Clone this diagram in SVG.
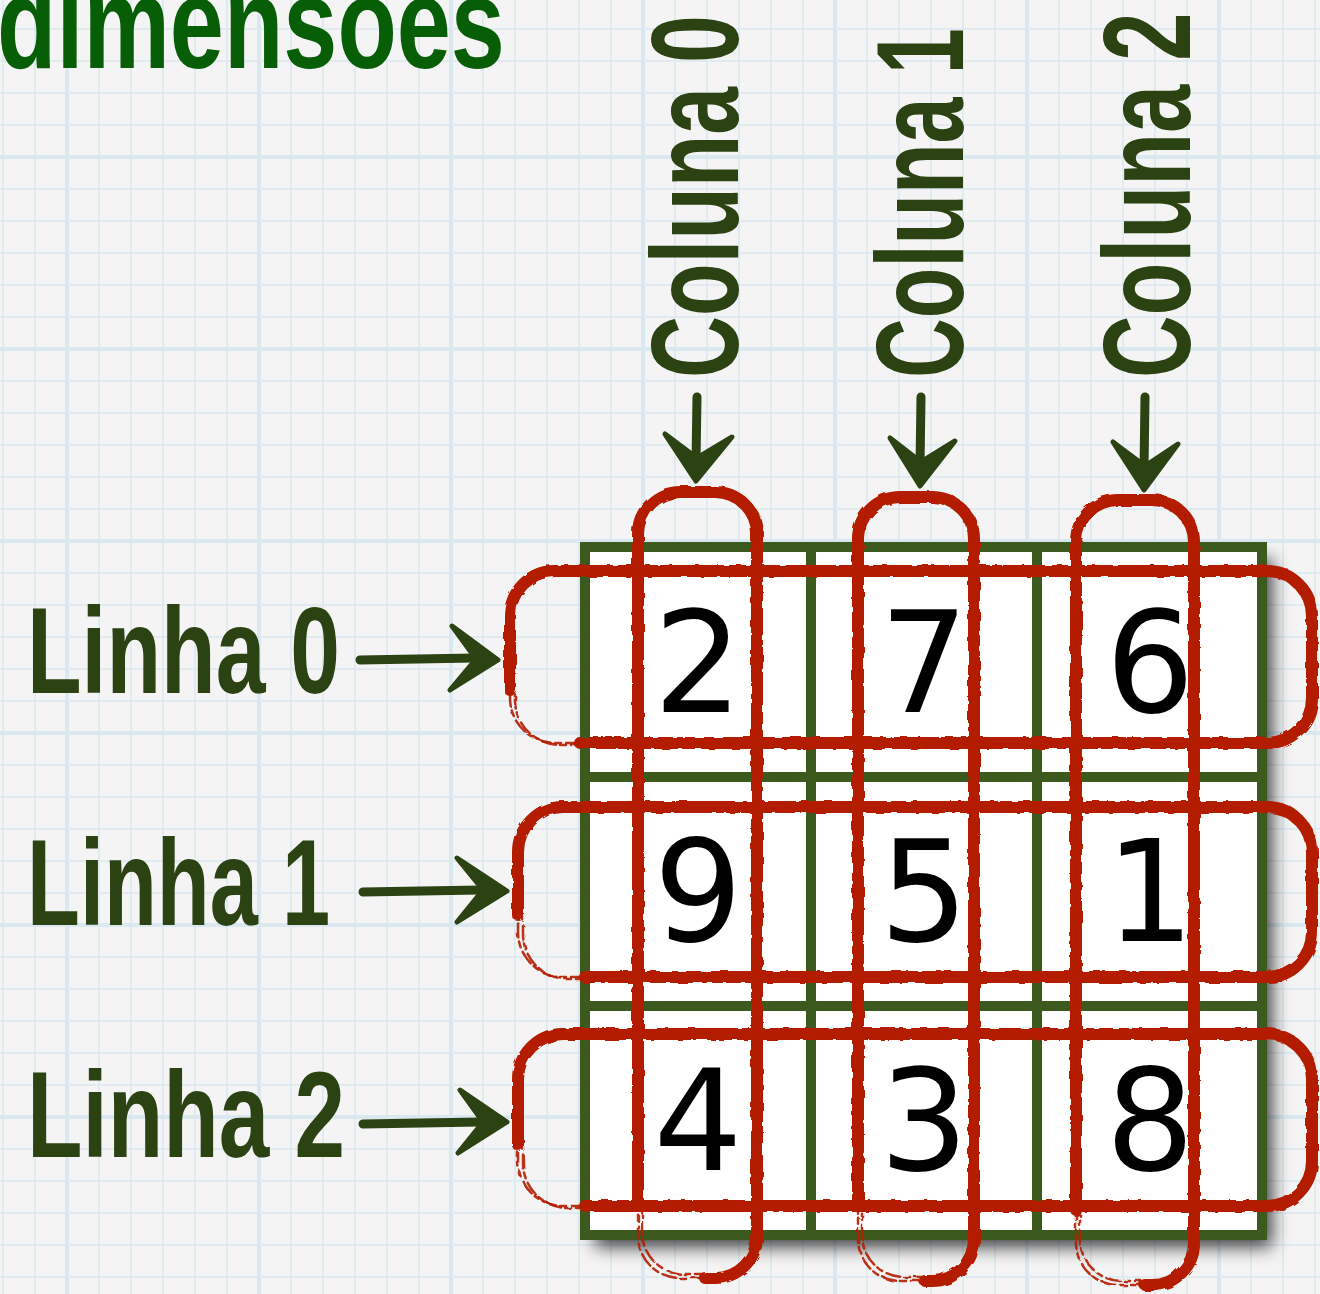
<svg xmlns="http://www.w3.org/2000/svg" xmlns:xlink="http://www.w3.org/1999/xlink" width="1320" height="1294" viewBox="0 0 1320 1294">
<style>
.lbl{font-family:"Liberation Sans","DejaVu Sans",sans-serif;font-weight:700;fill:#2b4212;}
.num{font-family:"DejaVu Sans","Liberation Sans",sans-serif;font-size:140px;fill:#000;text-anchor:middle;}
.cell{fill:#fff;stroke:#3c5a1d;stroke-width:10;}
.thick{fill:none;stroke:#b41c00;stroke-width:12;stroke-linecap:round;stroke-linejoin:round;}
.thin{fill:none;stroke:#b41c00;stroke-width:3;stroke-linecap:round;opacity:0.85;}
.faint{fill:none;stroke:#b41c00;stroke-width:2.5;stroke-dasharray:14 5 6 4;stroke-linecap:round;opacity:0.9;}
.shaft{fill:none;stroke:#2b4212;stroke-width:9;stroke-linecap:round;}
.head{fill:#2b4212;stroke:#2b4212;stroke-width:5;stroke-linejoin:round;}
</style>
<defs>
<pattern id="paper" x="147" y="45" width="192" height="192" patternUnits="userSpaceOnUse">
<rect width="192" height="192" fill="#f4f4f4"/>
<g stroke="#dfebf0" stroke-width="2">
<path d="M16 0V192M48 0V192M80 0V192M144 0V192M176 0V192M0 16H192M0 48H192M0 80H192M0 144H192M0 176H192"/>
</g>
<path d="M112 0V192M0 112H192" stroke="#dae8f0" stroke-width="4"/>
</pattern>
<filter id="shadow" x="-10%" y="-10%" width="130%" height="130%">
<feDropShadow dx="10" dy="12" stdDeviation="9" flood-color="#000" flood-opacity="0.75"/>
</filter>
<filter id="rough" x="-5%" y="-5%" width="110%" height="110%">
<feTurbulence type="fractalNoise" baseFrequency="0.09" numOctaves="2" seed="4"/>
<feDisplacementMap in="SourceGraphic" scale="4"/>
</filter>
<path id="c0" d="M638,1200 V534 A42,42 0 0 1 680,492 H715 A42,42 0 0 1 757,534 V1236 A42,42 0 0 1 715,1278 H705"/>
<path id="c0f" d="M705,1278 H680 A42,42 0 0 1 638,1236 V1200"/>
<path id="c1" d="M858,1205 V539 A42,42 0 0 1 900,497 H932 A42,42 0 0 1 974,539 V1239 A42,42 0 0 1 932,1281 H925"/>
<path id="c1f" d="M925,1281 H900 A42,42 0 0 1 858,1239 V1205"/>
<path id="c2" d="M1076,1210 V542 A42,42 0 0 1 1118,500 H1152 A42,42 0 0 1 1194,542 V1243 A42,42 0 0 1 1152,1285 H1145"/>
<path id="c2f" d="M1145,1285 H1118 A42,42 0 0 1 1076,1243 V1210"/>
<path id="r0" d="M510,690 V616 A45,45 0 0 1 555,571 H1267 A45,45 0 0 1 1312,616 V698 A45,45 0 0 1 1267,743 H580"/>
<path id="r0f" d="M580,743 H555 A45,45 0 0 1 510,698 V690"/>
<path id="r1" d="M518,915 V852 A45,45 0 0 1 563,807 H1267 A45,45 0 0 1 1312,852 V932 A45,45 0 0 1 1267,977 H585"/>
<path id="r1f" d="M585,977 H563 A45,45 0 0 1 518,932 V915"/>
<path id="r2" d="M518,1145 V1079 A45,45 0 0 1 563,1034 H1267 A45,45 0 0 1 1312,1079 V1161 A45,45 0 0 1 1267,1206 H585"/>
<path id="r2f" d="M585,1206 H563 A45,45 0 0 1 518,1161 V1145"/>
</defs>

<rect id="background" width="1320" height="1294" fill="url(#paper)"/>

<g id="title">
<text class="lbl" transform="translate(-3,68) scale(0.748,1)" font-size="130" style="fill:#075e07">dimensoes</text>
</g>

<g id="matrix">
<rect x="585" y="547" width="677" height="688" fill="#fff" filter="url(#shadow)"/>
<g id="cell-0-0"><rect class="cell" x="585" y="547" width="226" height="230"/><text class="num" x="698" y="712">2</text></g>
<g id="cell-0-1"><rect class="cell" x="811" y="547" width="226" height="230"/><text class="num" x="924" y="712">7</text></g>
<g id="cell-0-2"><rect class="cell" x="1037" y="547" width="225" height="230"/><text class="num" x="1150" y="712">6</text></g>
<g id="cell-1-0"><rect class="cell" x="585" y="777" width="226" height="229"/><text class="num" x="698" y="941">9</text></g>
<g id="cell-1-1"><rect class="cell" x="811" y="777" width="226" height="229"/><text class="num" x="924" y="941">5</text></g>
<g id="cell-1-2"><rect class="cell" x="1037" y="777" width="225" height="229"/><text class="num" x="1150" y="941">1</text></g>
<g id="cell-2-0"><rect class="cell" x="585" y="1006" width="226" height="229"/><text class="num" x="698" y="1170">4</text></g>
<g id="cell-2-1"><rect class="cell" x="811" y="1006" width="226" height="229"/><text class="num" x="924" y="1170">3</text></g>
<g id="cell-2-2"><rect class="cell" x="1037" y="1006" width="225" height="229"/><text class="num" x="1150" y="1170">8</text></g>
</g>

<g id="highlights" filter="url(#rough)">
<g id="loop-row-0"><use href="#r0" class="thick"/><use href="#r0" class="thin" transform="translate(2,4)"/><use href="#r0" class="thin" transform="translate(-2,-4)"/><use href="#r0f" class="faint"/><use href="#r0f" class="faint" transform="translate(5,2)"/></g>
<g id="loop-row-1"><use href="#r1" class="thick"/><use href="#r1" class="thin" transform="translate(2,4)"/><use href="#r1" class="thin" transform="translate(-2,-4)"/><use href="#r1f" class="faint"/><use href="#r1f" class="faint" transform="translate(5,2)"/></g>
<g id="loop-row-2"><use href="#r2" class="thick"/><use href="#r2" class="thin" transform="translate(2,4)"/><use href="#r2" class="thin" transform="translate(-2,-4)"/><use href="#r2f" class="faint"/><use href="#r2f" class="faint" transform="translate(5,2)"/></g>
<g id="loop-col-0"><use href="#c0" class="thick"/><use href="#c0" class="thin" transform="translate(4,2)"/><use href="#c0" class="thin" transform="translate(-4,-2)"/><use href="#c0f" class="faint"/><use href="#c0f" class="faint" transform="translate(4,-4)"/></g>
<g id="loop-col-1"><use href="#c1" class="thick"/><use href="#c1" class="thin" transform="translate(4,2)"/><use href="#c1" class="thin" transform="translate(-4,-2)"/><use href="#c1f" class="faint"/><use href="#c1f" class="faint" transform="translate(4,-4)"/></g>
<g id="loop-col-2"><use href="#c2" class="thick"/><use href="#c2" class="thin" transform="translate(4,2)"/><use href="#c2" class="thin" transform="translate(-4,-2)"/><use href="#c2f" class="faint"/><use href="#c2f" class="faint" transform="translate(4,-4)"/></g>
</g>

<g id="label-linha-0"><text class="lbl" transform="translate(27,693) scale(0.733,1)" font-size="122">Linha 0</text></g>
<g id="label-linha-1"><text class="lbl" transform="translate(27,925) scale(0.71,1)" font-size="122">Linha 1</text></g>
<g id="label-linha-2"><text class="lbl" transform="translate(27,1157) scale(0.745,1)" font-size="122">Linha 2</text></g>

<g id="label-coluna-0"><text class="lbl" transform="translate(738,378) rotate(-90) scale(0.693,1)" font-size="124">Coluna 0</text></g>
<g id="label-coluna-1"><text class="lbl" transform="translate(963,378) rotate(-90) scale(0.668,1)" font-size="124">Coluna 1</text></g>
<g id="label-coluna-2"><text class="lbl" transform="translate(1190,378) rotate(-90) scale(0.698,1)" font-size="124">Coluna 2</text></g>

<g id="connectors">
<g id="arrow-linha-0"><path class="shaft" d="M360,660 L475,658"/><path class="head" d="M452,626 L498,660 L450,690 L476,659 Z"/></g>
<g id="arrow-linha-1"><path class="shaft" d="M363,892 L480,890"/><path class="head" d="M457,858 L507,891 L457,922 L483,890 Z"/></g>
<g id="arrow-linha-2"><path class="shaft" d="M363,1124 L480,1122"/><path class="head" d="M460,1090 L507,1122 L458,1153 L483,1122 Z"/></g>
<g id="arrow-coluna-0"><path class="shaft" d="M697,397 L696,462"/><path class="head" d="M665,434 L696,481 L732,437 L697,458 Z"/></g>
<g id="arrow-coluna-1"><path class="shaft" d="M921,397 L920,466"/><path class="head" d="M890,438 L920,486 L955,441 L921,462 Z"/></g>
<g id="arrow-coluna-2"><path class="shaft" d="M1145,397 L1144,470"/><path class="head" d="M1113,442 L1144,490 L1178,444 L1145,466 Z"/></g>
</g>
</svg>
